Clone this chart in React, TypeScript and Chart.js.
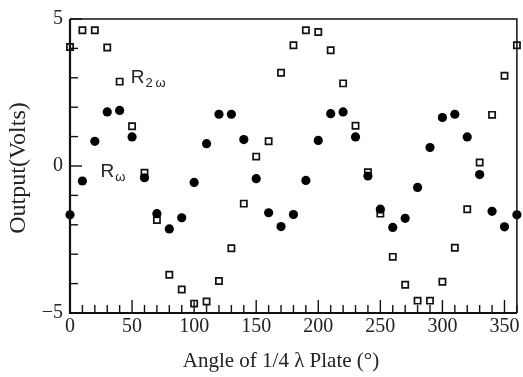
import React, { useEffect, useRef } from "react";
import { Chart, registerables } from "chart.js";

Chart.register(...registerables);

const angles = [0, 10, 20, 30, 40, 50, 60, 70, 80, 90, 100, 110, 120, 130, 140, 150, 160, 170, 180, 190, 200, 210, 220, 230, 240, 250, 260, 270, 280, 290, 300, 310, 320, 330, 340, 350, 360];
const rOmega = [-1.66, -0.51, 0.84, 1.84, 1.89, 0.99, -0.4, -1.62, -2.14, -1.76, -0.56, 0.76, 1.76, 1.76, 0.9, -0.43, -1.59, -2.06, -1.65, -0.49, 0.87, 1.78, 1.84, 0.99, -0.34, -1.47, -2.09, -1.78, -0.73, 0.63, 1.65, 1.76, 0.99, -0.29, -1.54, -2.07, -1.66];
const r2Omega = [4.05, 4.62, 4.62, 4.03, 2.87, 1.35, -0.23, -1.84, -3.7, -4.2, -4.68, -4.61, -3.91, -2.8, -1.28, 0.32, 0.84, 3.17, 4.11, 4.62, 4.56, 3.94, 2.81, 1.37, -0.21, -1.62, -3.09, -4.04, -4.58, -4.58, -3.94, -2.78, -1.47, 0.12, 1.74, 3.07, 4.11];
const xTicks = [0, 50, 100, 150, 200, 250, 300, 350];
const yTicks = [-5, 0, 5];
const xTitle = "Angle of 1/4 \u03BB Plate (\u00B0)";
const yTitle = "Output(Volts)";

const frameAndTicks = {
  id: "frameAndTicks",
  afterDraw(chart: any) {
    const { ctx, chartArea: a, scales } = chart;
    const xs = scales.x;
    const ys = scales.y;
    ctx.save();
    ctx.strokeStyle = "#111";
    // frame
    ctx.lineWidth = 1.5;
    ctx.beginPath();
    ctx.moveTo(a.left, a.top);
    ctx.lineTo(a.right, a.top);
    ctx.lineTo(a.right, a.bottom);
    ctx.stroke();
    ctx.lineWidth = 2.2;
    ctx.beginPath();
    ctx.moveTo(a.left, a.top);
    ctx.lineTo(a.left, a.bottom);
    ctx.lineTo(a.right, a.bottom);
    ctx.stroke();
    // x ticks
    ctx.lineWidth = 1.4;
    for (let v = 0; v <= 360; v += 10) {
      const px = xs.getPixelForValue(v);
      const len = v % 50 === 0 ? 13 : 8;
      ctx.beginPath();
      ctx.moveTo(px, a.bottom);
      ctx.lineTo(px, a.bottom - len);
      ctx.stroke();
    }
    // y ticks
    for (let v = -5; v <= 5; v += 1) {
      const py = ys.getPixelForValue(v);
      const len = v % 5 === 0 ? 12 : 8;
      ctx.beginPath();
      ctx.moveTo(a.left, py);
      ctx.lineTo(a.left + len, py);
      ctx.stroke();
    }
    // series labels
    ctx.fillStyle = "#222";
    ctx.textBaseline = "alphabetic";
    const drawLabel = (xv: number, yv: number, sub: string) => {
      const px = xs.getPixelForValue(xv);
      const py = ys.getPixelForValue(yv);
      ctx.font = "19px 'Liberation Sans'";
      ctx.textAlign = "left";
      ctx.fillText("R", px, py);
      const w = ctx.measureText("R").width;
      ctx.font = "13px 'Liberation Sans'";
      ctx.fillText(sub, px + w + 1, py + 4);
    };
    drawLabel(49, 2.82, "2\u2009\u03C9");
    drawLabel(24.5, -0.37, "\u03C9");
    // axis titles
    ctx.fillStyle = "#222";
    ctx.font = "21px 'Liberation Serif'";
    ctx.textAlign = "center";
    ctx.textBaseline = "alphabetic";
    ctx.fillText(xTitle, 281, 367);
    ctx.save();
    ctx.translate(25, (a.top + a.bottom) / 2 + 2);
    ctx.rotate(-Math.PI / 2);
    ctx.font = "24px 'Liberation Serif'";
    ctx.fillText(yTitle, 0, 0);
    ctx.restore();
    ctx.restore();
  },
};

export default function App() {
  const ref = useRef<HTMLCanvasElement>(null);
  useEffect(() => {
    if (!ref.current) return;
    const chart = new Chart(ref.current, {
      type: "scatter",
      data: {
        datasets: [
          {
            label: "R\u03C9",
            data: angles.map((a, i) => ({ x: a, y: rOmega[i] })),
            pointStyle: "circle",
            pointRadius: 4.6,
            backgroundColor: "#000",
            borderColor: "#000",
            borderWidth: 0,
            showLine: false,
            clip: false,
          },
          {
            label: "R2\u03C9",
            data: angles.map((a, i) => ({ x: a, y: r2Omega[i] })),
            pointStyle: "rect",
            pointRadius: 4.4,
            backgroundColor: "#fff",
            borderColor: "#111",
            borderWidth: 1.7,
            showLine: false,
            clip: false,
          },
        ],
      },
      options: {
        responsive: false,
        animation: false,
        layout: { padding: { top: 12, right: 5, left: 0, bottom: 0 } },
        plugins: { legend: { display: false }, tooltip: { enabled: false } },
        scales: {
          x: {
            type: "linear",
            min: 0,
            max: 360,
            afterFit: (s: any) => {
              s.height = 64;
            },
            afterBuildTicks: (s: any) => {
              s.ticks = xTicks.map((v) => ({ value: v }));
            },
            grid: { display: false, drawTicks: false },
            border: { display: false },
            ticks: {
              padding: 2,
              color: "#222",
              font: { family: "'Liberation Serif'", size: 20 },
              maxRotation: 0,
            },
            title: { display: false },
          },
          y: {
            type: "linear",
            min: -5,
            max: 5,
            afterFit: (s: any) => {
              s.width = 70;
            },
            afterBuildTicks: (s: any) => {
              s.ticks = yTicks.map((v) => ({ value: v }));
            },
            grid: { display: false, drawTicks: false },
            border: { display: false },
            ticks: {
              padding: 7,
              color: "#222",
              font: { family: "'Liberation Serif'", size: 20 },
              callback: (v: any) => (Number(v) < 0 ? "\u2212" + Math.abs(Number(v)) : String(v)),
            },
            title: { display: false },
          },
        },
      },
      plugins: [frameAndTicks],
    });
    return () => chart.destroy();
  }, []);
  return (
    <div style={{ position: "fixed", left: 0, top: 0, width: 523, height: 377, background: "#fff" }}>
      <canvas ref={ref} width={523} height={377} />
    </div>
  );
}
